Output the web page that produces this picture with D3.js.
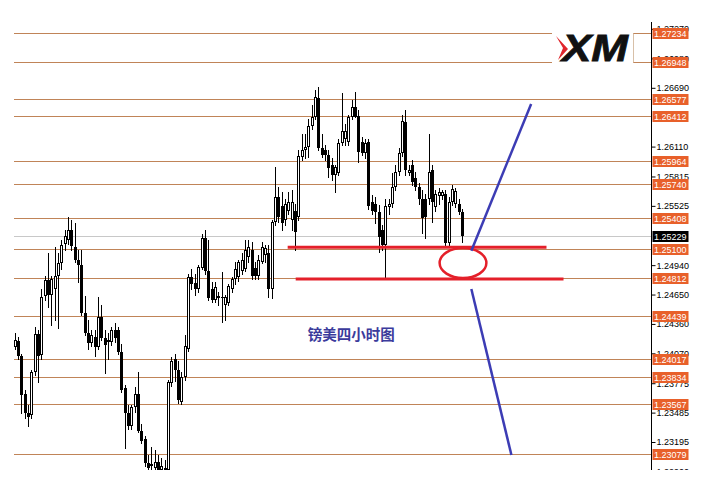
<!DOCTYPE html>
<html><head><meta charset="utf-8">
<script src="https://cdn.jsdelivr.net/npm/d3@7/dist/d3.min.js"></script>
<style>html,body{margin:0;padding:0;background:#fff;}svg{display:block;}</style>
</head><body>
<svg id="c" width="704" height="490"></svg>
<script>
const open = [
1.2413,1.2419,1.2404,1.2367,1.2348,1.2346,1.2389,1.2426,1.2405,1.2464,
1.2479,1.2465,1.2470,1.2483,1.2496,1.2515,1.2519,1.2529,1.2512,1.2499,
1.2494,1.2447,1.2427,1.2417,1.2423,1.2413,
1.2443,1.2422,1.2418,1.2418,1.2430,1.2430,1.2408,1.2373,1.2348,1.2335,
1.2354,1.2367,1.2330,1.2322,1.2299,1.2296,1.2294,1.2300,1.2292,1.2294,
1.2292,1.2378,1.2401,1.2391,1.2359,1.2384,1.2411,1.2482,
1.2476,1.2470,1.2491,1.2521,1.2488,1.2470,1.2460,1.2463,1.2463,1.2455,
1.2457,1.2470,1.2480,1.2482,1.2488,1.2490,1.2502,1.2509,1.2491,1.2483,
1.2497,1.2504,
1.2506,1.2470,1.2537,1.2561,1.2552,1.2539,1.2547,1.2539,1.2547,
1.2542,1.2601,1.2608,1.2611,1.2631,1.2640,1.2659,1.2610,1.2608,1.2603,
1.2593,1.2583,1.2585,1.2615,1.2618,1.2616,1.2640,1.2650,1.2641,1.2616,
1.2605,
1.2616,1.2556,1.2554,1.2546,1.2529,
1.2514,1.2551,1.2554,1.2571,1.2586,1.2605,1.2635,1.2585,1.2593,1.2580,
1.2571,1.2559,1.2559,1.2559,1.2588,1.2551,1.2562,1.2562,1.2564,1.2516,
1.2556,1.2554,1.2554,1.2546];
const high = [
1.2427,1.2423,1.2406,1.2371,1.2356,1.2391,1.2433,1.2430,1.2470,1.2483,
1.2506,1.2483,1.2512,1.2506,1.2519,1.2529,1.2542,1.2539,1.2536,1.2509,
1.2509,1.2464,1.2440,1.2430,1.2430,1.2463,
1.2455,1.2430,1.2427,1.2433,1.2437,1.2433,1.2416,1.2376,1.2356,1.2356,
1.2374,1.2389,1.2337,1.2325,1.2307,1.2315,1.2312,1.2307,1.2304,1.2302,
1.2381,1.2403,1.2406,1.2399,1.2389,1.2425,1.2485,1.2490,
1.2485,1.2494,1.2525,1.2529,1.2519,1.2477,1.2477,1.2468,1.2487,1.2465,
1.2475,1.2482,1.2497,1.2499,1.2506,1.2519,1.2519,1.2517,1.2497,1.2504,
1.2517,1.2514,
1.2514,1.2539,1.2591,1.2571,1.2566,1.2559,1.2566,1.2568,1.2554,
1.2608,1.2623,1.2623,1.2638,1.2652,1.2667,1.2670,1.2623,1.2613,1.2608,
1.2600,1.2593,1.2618,1.2664,1.2633,1.2642,1.2657,1.2665,1.2647,1.2620,
1.2618,
1.2618,1.2563,1.2561,1.2553,1.2534,
1.2559,1.2559,1.2585,1.2593,1.2610,1.2642,1.2647,1.2593,1.2598,1.2586,
1.2575,1.2568,1.2564,1.2623,1.2593,1.2568,1.2570,1.2568,1.2568,1.2561,
1.2573,1.2570,1.2559,1.2549];
const low = [
1.2411,1.2401,1.2348,1.2343,1.2335,1.2343,1.2386,1.2379,1.2401,1.2460,
1.2453,1.2435,1.2440,1.2432,1.2490,1.2509,1.2515,1.2509,1.2497,1.2477,
1.2445,1.2425,1.2411,1.2414,1.2404,1.2411,
1.2420,1.2388,1.2401,1.2415,1.2418,1.2406,1.2369,1.2314,1.2332,1.2332,
1.2349,1.2329,1.2319,1.2296,1.2292,1.2292,1.2292,1.2292,1.2284,1.2284,
1.2284,1.2375,1.2380,1.2358,1.2357,1.2381,1.2409,1.2470,
1.2465,1.2468,1.2490,1.2485,1.2460,1.2458,1.2458,1.2455,1.2438,1.2440,
1.2455,1.2468,1.2475,1.2478,1.2485,1.2488,1.2497,1.2480,1.2480,1.2480,
1.2496,1.2497,
1.2463,1.2462,1.2534,1.2537,1.2529,1.2534,1.2544,1.2529,1.2509,
1.2539,1.2598,1.2600,1.2601,1.2628,1.2638,1.2608,1.2601,1.2598,1.2581,
1.2578,1.2566,1.2583,1.2613,1.2613,1.2613,1.2638,1.2640,1.2596,1.2603,
1.2600,
1.2549,1.2544,1.2536,1.2507,1.2509,
1.2480,1.2544,1.2551,1.2568,1.2583,1.2602,1.2583,1.2583,1.2573,1.2568,
1.2554,1.2526,1.2521,1.2554,1.2537,1.2547,1.2554,1.2559,1.2514,1.2513,
1.2553,1.2551,1.2544,1.2517];
const close = [
1.2420,1.2404,1.2366,1.2348,1.2344,1.2389,1.2426,1.2404,1.2463,1.2479,
1.2465,1.2480,1.2483,1.2496,1.2514,1.2523,1.2529,1.2513,1.2499,1.2494,
1.2447,1.2427,1.2417,1.2425,1.2413,1.2443,
1.2422,1.2415,1.2420,1.2430,1.2422,1.2408,1.2371,1.2348,1.2335,1.2354,
1.2367,1.2330,1.2320,1.2299,1.2294,1.2298,1.2300,1.2292,1.2296,1.2292,
1.2379,1.2399,1.2391,1.2361,1.2384,1.2414,1.2482,1.2475,
1.2470,1.2492,1.2521,1.2488,1.2462,1.2460,1.2472,1.2464,1.2462,1.2463,
1.2473,1.2480,1.2490,1.2497,1.2499,1.2509,1.2512,1.2483,1.2483,1.2499,
1.2512,1.2511,
1.2470,1.2537,1.2561,1.2542,1.2536,1.2554,1.2556,1.2556,1.2527,
1.2602,1.2608,1.2611,1.2631,1.2640,1.2660,1.2610,1.2603,1.2603,1.2590,
1.2583,1.2591,1.2615,1.2626,1.2626,1.2640,1.2650,1.2640,1.2606,1.2605,
1.2615,
1.2552,1.2547,1.2546,1.2522,1.2514,
1.2552,1.2554,1.2571,1.2586,1.2605,1.2636,1.2588,1.2588,1.2576,1.2571,
1.2559,1.2541,1.2542,1.2586,1.2556,1.2564,1.2566,1.2566,1.2516,1.2556,
1.2569,1.2567,1.2546,1.2523];

const levels = [1.27234,1.26948,1.26577,1.26412,1.25964,1.25740,1.25408,1.25100,1.24812,1.24439,1.24017,1.23834,1.23567,1.23079];
const currentPrice = 1.25229;
const tickLabels = [1.27270,1.26980,1.26690,1.26110,1.25815,1.25525,1.24940,1.24650,1.24360,1.24070,1.23775,1.23485,1.23195,1.22900];
// annotations: [index, price] anchors
const redLines = [ {i0:81.8, i1:159.3, p:1.25116}, {i0:84.2, i1:164.4, p:1.24803} ];
const ellipse = {i:134.3, p:1.24961, di:7.0, dp:0.00148};
const blueLines = [ {i0:136.8,p0:1.25083,i1:154.7,p1:1.26531}, {i0:136.8,p0:1.24705,i1:148.8,p1:1.23066} ];
const caption = {text:"镑美四小时图", i:87.8, p:1.24251};

const n = open.length;
const svg = d3.select("#c");
svg.append("rect").attr("width",704).attr("height",490).attr("fill","#fff");

const x = d3.scaleLinear().domain([0, n-1]).range([14.5, 462]);
const y = d3.scaleLinear().domain([1.26690, 1.23195]).range([87.8, 442.0]);
const axisX = 651.5;
const fmt = d3.format(".5f");
const FONT = "Liberation Sans, Arial, sans-serif";

svg.append("defs").append("clipPath").attr("id","plot")
  .append("rect").attr("x",0).attr("y",22).attr("width",704).attr("height",448);
const g = svg.append("g").attr("clip-path","url(#plot)");

// horizontal level lines
g.selectAll("line.lvl").data(levels).join("line")
  .attr("x1",14).attr("x2",axisX)
  .attr("y1",d=>Math.round(y(d))+0.5).attr("y2",d=>Math.round(y(d))+0.5)
  .attr("stroke","#c08458").attr("stroke-width",1);
g.append("line").attr("x1",14).attr("x2",axisX)
  .attr("y1",Math.round(y(currentPrice))+0.5).attr("y2",Math.round(y(currentPrice))+0.5)
  .attr("stroke","#c8c8c8").attr("stroke-width",1);

// candles
const idx = d3.range(n);
const cg = g.append("g");
idx.forEach(i=>{
  const cx = Math.round(x(i));
  cg.append("line").attr("x1",cx+0.5).attr("x2",cx+0.5)
    .attr("y1",Math.round(y(high[i]))).attr("y2",Math.round(y(low[i]))+1)
    .attr("stroke","#000").attr("stroke-width",1);
  const yo = Math.round(y(open[i])), yc = Math.round(y(close[i]));
  const top = Math.min(yo,yc), h = Math.max(1, Math.abs(yo-yc));
  if (close[i] >= open[i]) {
    cg.append("rect").attr("x",cx-0.5).attr("y",top+0.5).attr("width",2).attr("height",Math.max(1,h-1))
      .attr("fill","#fff").attr("stroke","#000").attr("stroke-width",1);
  } else {
    cg.append("rect").attr("x",cx-1).attr("y",top).attr("width",3).attr("height",h)
      .attr("fill","#000");
  }
});

// right axis
const ax = g.append("g").attr("transform",`translate(${axisX},0)`)
  .call(d3.axisRight(y).tickValues(tickLabels).tickSize(4).tickPadding(1).tickFormat(fmt));
ax.select(".domain").remove();
ax.selectAll("text").attr("font-family",FONT).attr("font-size","9px").attr("fill","#000");
ax.selectAll("line").attr("stroke","#000");
g.append("line").attr("x1",axisX).attr("x2",axisX).attr("y1",22).attr("y2",470).attr("stroke","#000");

// price labels
const lab = g.append("g");
levels.forEach(v=>{
  const yy = Math.round(y(v));
  lab.append("rect").attr("x",652.5).attr("y",yy-5).attr("width",36).attr("height",11).attr("fill","#e8602a");
  lab.append("text").attr("x",654).attr("y",yy+4).attr("font-family",FONT)
    .attr("font-size","9px").attr("fill","#fff").text(fmt(v));
});
{
  const yy = Math.round(y(currentPrice));
  lab.append("rect").attr("x",652.5).attr("y",yy-5).attr("width",36).attr("height",11).attr("fill","#000");
  lab.append("text").attr("x",654).attr("y",yy+4).attr("font-family",FONT)
    .attr("font-size","9px").attr("fill","#fff").text(fmt(currentPrice));
}

// logo
svg.append("rect").attr("x",552).attr("y",24).attr("width",81).attr("height",48).attr("fill","#fff");
svg.append("line").attr("x1",633.5).attr("x2",633.5).attr("y1",Math.round(y(levels[0]))+0.5).attr("y2",Math.round(y(levels[1]))+0.5)
  .attr("stroke","#d8c0a8").attr("stroke-width",1);
svg.append("polygon").attr("points","556,36 568,49 558,60 563,48").attr("fill","#e0262c");
svg.append("text").attr("x",562).attr("y",61).attr("font-family",FONT)
  .attr("font-weight","bold").attr("font-style","italic").attr("font-size","37px")
  .attr("textLength",66).attr("lengthAdjust","spacingAndGlyphs").attr("fill","#111")
  .attr("stroke","#111").attr("stroke-width",0.8).text("XM");

// red annotations
redLines.forEach(r=>{
  svg.append("line").attr("x1",x(r.i0)).attr("x2",x(r.i1)).attr("y1",y(r.p)).attr("y2",y(r.p))
    .attr("stroke","#e4202a").attr("stroke-width",3);
});
svg.append("ellipse").attr("cx",x(ellipse.i)).attr("cy",y(ellipse.p))
  .attr("rx",x(ellipse.di)-x(0)).attr("ry",y(ellipse.p-ellipse.dp)-y(ellipse.p))
  .attr("fill","none").attr("stroke","#e4202a").attr("stroke-width",2.5);
blueLines.forEach(b=>{
  svg.append("line").attr("x1",x(b.i0)).attr("y1",y(b.p0)).attr("x2",x(b.i1)).attr("y2",y(b.p1))
    .attr("stroke","#3c3cb4").attr("stroke-width",2.5);
});
svg.append("text").attr("x",x(caption.i)).attr("y",y(caption.p)+5)
  .attr("font-family","Noto Sans CJK SC, sans-serif").attr("font-weight","bold").attr("font-size","14.5px")
  .attr("fill","#3b3b9c").text(caption.text);
</script>
</body></html>
